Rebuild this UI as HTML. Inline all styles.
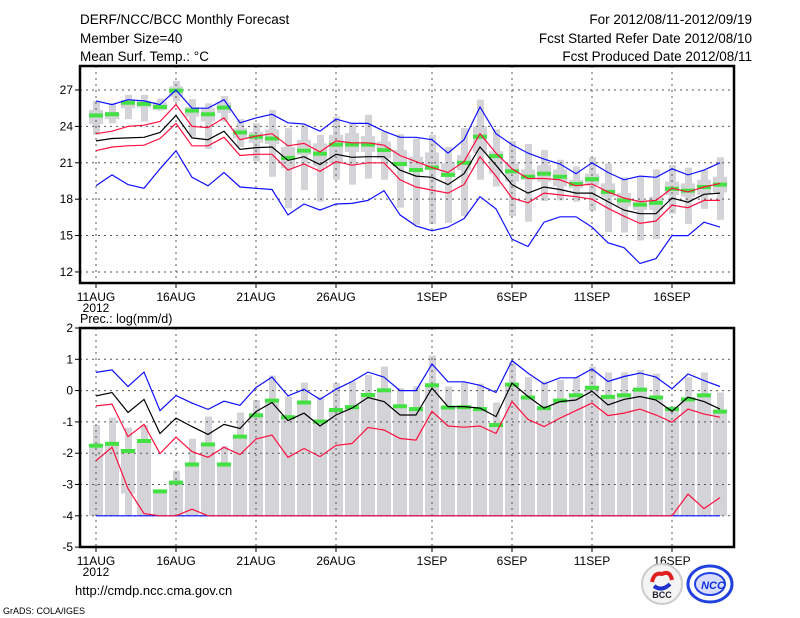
<!DOCTYPE html>
<html><head><meta charset="utf-8">
<style>
body{margin:0;background:#fff;width:800px;height:618px;overflow:hidden}
svg{display:block;font-family:"Liberation Sans",sans-serif}
</style></head>
<body>
<svg id="chart" width="800" height="618" viewBox="0 0 800 618">
<g font-size="13.5" fill="#000">
<text x="80" y="24">DERF/NCC/BCC Monthly Forecast</text>
<text x="80" y="43">Member Size=40</text>
<text x="80" y="61">Mean Surf. Temp.: °C</text>
<text x="752" y="24" text-anchor="end">For 2012/08/11-2012/09/19</text>
<text x="752" y="43" text-anchor="end">Fcst Started Refer Date 2012/08/10</text>
<text x="752" y="61" text-anchor="end">Fcst Produced Date 2012/08/11</text>
</g>
<g id="top"></g>
<g id="bot"></g>
<text x="80" y="323" font-size="12.5">Prec.: log(mm/d)</text>
<text x="75" y="595" font-size="13">http://cmdp.ncc.cma.gov.cn</text>
<text x="3" y="614" font-size="9">GrADS: COLA/IGES</text>
<g>
<circle cx="662" cy="584" r="20" fill="#f4f4f4" stroke="#ccc" stroke-width="2"/>
<path d="M652 582 q2 -10 10 -8 q8 -4 10 6" stroke="#e02020" stroke-width="4" fill="none"/>
<path d="M654 586 q8 6 16 -2" stroke="#2030d0" stroke-width="4" fill="none"/>
<text x="662" y="598" font-size="9" font-weight="bold" text-anchor="middle" fill="#223">BCC</text>
</g>
<g>
<ellipse cx="710" cy="584" rx="22" ry="18" fill="none" stroke="#2040e0" stroke-width="3"/>
<ellipse cx="710" cy="584" rx="15" ry="11" fill="#d8dcff" stroke="#2040e0" stroke-width="2"/>
<text x="713" y="589" font-size="11" font-weight="bold" font-style="italic" text-anchor="middle" fill="#1030e0">NCC</text>
</g>
</svg>
<script>
// ---- Temperature panel data ----
const tBlueHi=[26.1,25.8,26.2,26.1,25.8,27.0,25.5,25.5,26.2,24.3,24.7,25.0,24.3,24.2,23.6,24.6,24.25,24.25,23.6,23.1,23.1,22.9,21.8,22.9,25.6,23.4,22.5,21.8,21.3,20.9,20.1,21.0,20.2,19.6,19.9,19.8,20.5,20.0,20.4,21.0];
const tBlueLo=[19.1,20.0,19.2,18.9,20.5,22.0,19.8,19.1,20.2,19.0,18.9,18.8,16.7,17.6,17.1,17.6,17.65,17.9,18.7,16.7,15.8,15.4,15.7,16.4,18.2,17.2,14.7,14.1,16.1,16.55,16.55,15.7,14.4,14.0,12.7,13.1,15.0,15.0,16.1,15.7];
const tMean=[22.8,23.0,23.05,23.1,23.5,24.9,23.05,22.9,23.6,22.1,22.25,22.3,21.2,21.5,20.85,21.7,21.45,21.5,21.5,20.4,19.9,19.8,19.2,20.1,22.3,20.8,19.2,18.5,19.0,18.8,18.5,18.5,17.8,17.1,16.8,16.8,18.1,17.75,18.4,18.5];
const tRedHi=[23.4,23.6,24.0,24.1,24.4,25.8,24.0,23.9,24.7,22.9,23.2,23.4,22.4,22.6,21.9,22.8,22.65,22.65,22.45,21.6,21.1,20.6,20.2,21.1,23.4,21.8,20.5,19.7,19.7,19.6,19.1,19.25,18.6,18.1,17.8,17.9,18.9,18.6,19.0,19.3];
const tRedLo=[22.0,22.3,22.4,22.45,23.0,24.25,22.4,22.4,23.1,21.6,21.7,21.7,20.4,20.9,20.3,21.1,20.8,21.0,21.0,19.6,19.0,18.75,18.5,19.2,21.5,19.9,18.1,17.7,18.5,18.35,18.2,18.0,17.25,16.6,16.0,16.2,17.5,17.3,17.9,17.9];
const tGreen=[24.9,25.0,25.95,25.85,25.6,26.95,25.3,25.0,25.55,23.5,23.15,23.0,21.4,22.0,21.75,22.5,22.5,22.5,22.05,20.9,20.4,20.6,20.0,21.0,23.15,21.55,20.3,19.85,20.1,19.85,19.25,19.65,18.6,17.9,17.55,17.7,18.85,18.7,19.0,19.2];
const tWhiskHi=[26.1,25.9,26.6,26.6,26.3,27.75,26.25,25.9,26.5,24.6,24.25,25.35,23.85,24.1,23.3,24.8,24.25,24.95,23.55,23.35,23.0,23.3,22.3,23.85,26.2,23.75,22.8,22.55,22.05,21.25,20.7,21.45,20.95,19.8,19.9,20.45,20.8,20.6,20.4,21.45];
const tWhiskLo=[23.3,24.25,24.6,24.4,25.3,26.05,23.15,22.15,24.4,22.3,21.1,19.85,17.25,18.75,17.8,19.6,19.2,19.7,19.6,17.3,15.9,15.95,16.05,16.6,19.6,19.05,16.6,16.15,17.85,17.9,17.8,17.05,15.3,15.25,14.6,14.7,16.8,15.95,17.2,16.3];
const tBoxHi=[25.35,25.2,26.2,26.1,26.0,27.3,25.6,25.5,26.0,23.85,23.55,23.75,22.3,22.9,22.6,23.3,23.45,23.2,22.75,22.05,21.5,21.85,20.95,21.65,24.0,21.95,20.95,20.45,20.8,20.45,19.6,20.1,19.3,18.5,17.8,18.2,19.45,19.3,19.6,19.85];
const tBoxLo=[24.2,24.6,25.5,25.55,25.35,26.45,24.8,24.4,25.1,23.0,22.65,22.55,20.55,21.65,20.7,20.95,21.9,21.9,21.35,20.7,20.4,20.4,19.85,20.4,21.8,20.1,19.45,19.6,19.45,19.05,18.9,19.15,18.2,17.4,17.1,17.1,18.35,18.2,18.35,18.55];
const tTicks=[12,15,18,21,24,27];
// ---- Precipitation panel data ----
const pBlueHi=[0.58,0.66,0.13,0.59,-0.64,-0.16,-0.40,-0.60,-0.34,-0.47,0.10,0.43,-0.17,0.04,-0.28,0.04,0.29,0.59,0.43,0.00,0.00,0.85,0.28,0.28,0.17,-0.06,0.96,0.56,0.21,0.41,0.41,0.69,0.29,0.45,0.56,0.43,0.06,0.53,0.32,0.13];
const pMean=[-0.17,-0.06,-0.70,-0.28,-1.37,-0.88,-1.15,-1.40,-1.08,-1.21,-0.67,-0.38,-0.96,-0.72,-1.13,-0.78,-0.56,-0.22,-0.35,-0.78,-0.78,0.08,-0.51,-0.51,-0.56,-0.83,0.24,-0.19,-0.56,-0.35,-0.30,-0.02,-0.46,-0.28,-0.19,-0.30,-0.66,-0.21,-0.35,-0.59];
const pRedHi=[-0.49,-0.43,-1.47,-1.08,-2.01,-1.49,-1.95,-2.13,-1.81,-2.04,-1.55,-1.42,-2.13,-1.85,-2.11,-1.75,-1.69,-1.18,-1.26,-1.53,-1.58,-0.66,-1.13,-1.17,-1.13,-1.37,-0.35,-0.92,-1.15,-0.88,-0.64,-0.40,-0.80,-0.72,-0.59,-0.78,-1.01,-0.59,-0.75,-0.85];
const pRedLo=[-2.24,-1.81,-3.13,-3.93,-4,-4,-3.79,-4,-4,-4,-4,-4,-4,-4,-4,-4,-4,-4,-4,-4,-4,-4,-4,-4,-4,-4,-4,-4,-4,-4,-4,-4,-4,-4,-4,-4,-4,-3.31,-3.77,-3.42];
const pBlueLo=[-4,-4,-4,-4,-4,-4,-4,-4,-4,-4,-4,-4,-4,-4,-4,-4,-4,-4,-4,-4,-4,-4,-4,-4,-4,-4,-4,-4,-4,-4,-4,-4,-4,-4,-4,-4,-4,-4,-4,-4];
const pGreen=[-1.76,-1.70,-1.93,-1.61,-3.22,-2.94,-2.36,-1.72,-2.36,-1.47,-0.79,-0.32,-0.85,-0.38,-0.99,-0.62,-0.53,-0.14,0.01,-0.50,-0.59,0.17,-0.54,-0.53,-0.59,-1.10,0.19,-0.22,-0.56,-0.32,-0.15,0.09,-0.20,-0.15,0.03,-0.22,-0.59,-0.28,-0.15,-0.67];
const pWhiskHi=[-1.10,-0.86,-1.18,-1.10,-3.24,-2.56,-1.54,-0.83,-1.77,-0.70,-0.30,0.48,-0.19,0.26,-0.19,0.24,0.29,0.50,0.77,0.08,0.13,1.12,0.13,0.26,0.22,-0.38,0.90,0.43,0.29,0.34,0.43,0.77,0.58,0.58,0.66,0.54,-0.51,0.43,0.58,-0.06];
const pBoxHi=[-1.79,-1.74,-1.95,-1.58,-3.24,-2.97,-2.33,-1.74,-2.36,-1.42,-0.78,-0.30,-0.83,-0.35,-0.94,-0.56,-0.49,-0.08,0.02,-0.49,-0.56,0.13,-0.53,-0.51,-0.62,-1.04,0.13,-0.24,-0.62,-0.30,-0.14,0.13,-0.19,-0.17,0.02,-0.24,-0.62,-0.30,-0.14,-0.72];
const pBoxLo=[-4,-4,-3.29,-4,-4,-4,-4,-4,-4,-4,-4,-4,-4,-4,-4,-4,-4,-4,-4,-4,-4,-4,-4,-4,-4,-4,-4,-4,-4,-4,-4,-4,-4,-4,-4,-4,-4,-4,-4,-4];
const pWhiskLo=[-4,-4,-4,-4,-4,-4,-4,-4,-4,-4,-4,-4,-4,-4,-4,-4,-4,-4,-4,-4,-4,-4,-4,-4,-4,-4,-4,-4,-4,-4,-4,-4,-4,-4,-4,-4,-4,-4,-4,-4];
const pTicks=[-5,-4,-3,-2,-1,0,1,2];
const xTickDays=[0,5,10,15,21,26,31,36];
const xTickLabels=["11AUG","16AUG","21AUG","26AUG","1SEP","6SEP","11SEP","16SEP"];

const NS='http://www.w3.org/2000/svg';
const X0=80,X1=734;
function xDay(i){return 96+16*i;}
function mk(tag,attrs,parent){const e=document.createElementNS(NS,tag);for(const k in attrs)e.setAttribute(k,attrs[k]);parent.appendChild(e);return e;}

function panel(g,cfg){
  const y=cfg.y;
  // boxes
  for(let i=0;i<cfg.wh.length;i++){
    const cx=xDay(i);
    const w=mk('rect',{x:cx-3,y:y(cfg.wh[i]),width:7,height:Math.max(1,y(cfg.wl[i])-y(cfg.wh[i])),fill:'#d3d3d8'},g);
    
    
    const b=mk('rect',{x:cx-7,y:y(cfg.bh[i]),width:14,height:Math.max(1,y(cfg.bl[i])-y(cfg.bh[i])),fill:'#d3d3d8'},g);
    
    
  }
  // grid
  cfg.ticks.forEach(t=>{
    const gl=mk('line',{x1:X0,x2:X1,y1:y(t),y2:y(t),stroke:'#555','stroke-dasharray':'2,4','stroke-width':1},g);
    
    
    mk('line',{x1:X0-5,x2:X0,y1:y(t),y2:y(t),stroke:'#000'},g);
    const lb=mk('text',{x:X0-7,y:y(t)+4,'text-anchor':'end','font-size':12},g);
    lb.textContent=t;
    
    
  });
  xTickDays.forEach((d,k)=>{
    const gl=mk('line',{x1:xDay(d),x2:xDay(d),y1:cfg.top,y2:cfg.bottom,stroke:'#555','stroke-dasharray':'2,4'},g);
    
    
    mk('line',{x1:xDay(d),x2:xDay(d),y1:cfg.bottom,y2:cfg.bottom+5,stroke:'#000'},g);
    const lb=mk('text',{x:xDay(d),y:cfg.bottom+18,'text-anchor':'middle','font-size':12},g);
    lb.textContent=xTickLabels[k];
    
    
  });
  const yr=mk('text',{x:96,y:cfg.bottom+29,'text-anchor':'middle','font-size':12},g);
  yr.textContent='2012';
  
  
  // green marks
  cfg.green.forEach((v,i)=>{
    const r=mk('rect',{x:xDay(i)-7,y:y(v)-2,width:14,height:4,fill:'#44e044'},g);
    
    
  });
  // lines
  cfg.lines.forEach(([arr,col,name])=>{
    const pts=arr.map((v,i)=>xDay(i)+','+y(v).toFixed(1)).join(' ');
    const p=mk('polyline',{points:pts,fill:'none',stroke:col,'stroke-width':1.2},g);
    
    
  });
  const f=mk('rect',{x:X0,y:cfg.top,width:X1-X0,height:cfg.bottom-cfg.top,fill:'none',stroke:'#000','stroke-width':2.5},g);
  
  
}
const yT=v=>90+(27-v)*12.13;
panel(document.getElementById('top'),{y:yT,top:66,bottom:283,ticks:tTicks,
  wh:tWhiskHi,wl:tWhiskLo,bh:tBoxHi,bl:tBoxLo,green:tGreen,
  lines:[[tBlueHi,'#1010ff','blue-max-line'],[tBlueLo,'#1010ff','blue-min-line'],[tRedHi,'#ff1040','red-upper-line'],[tRedLo,'#ff1040','red-lower-line'],[tMean,'#000','ensemble-mean-line']]});
const yP=v=>328+(2-v)*31.3;
panel(document.getElementById('bot'),{y:yP,top:328,bottom:547,ticks:pTicks,
  wh:pWhiskHi,wl:pWhiskLo,bh:pBoxHi,bl:pBoxLo,green:pGreen,
  lines:[[pBlueHi,'#1010ff','blue-max-line'],[pBlueLo,'#1010ff','blue-min-line'],[pRedHi,'#ff1040','red-upper-line'],[pRedLo,'#ff1040','red-lower-line'],[pMean,'#000','ensemble-mean-line']]});
</script>
</body></html>
